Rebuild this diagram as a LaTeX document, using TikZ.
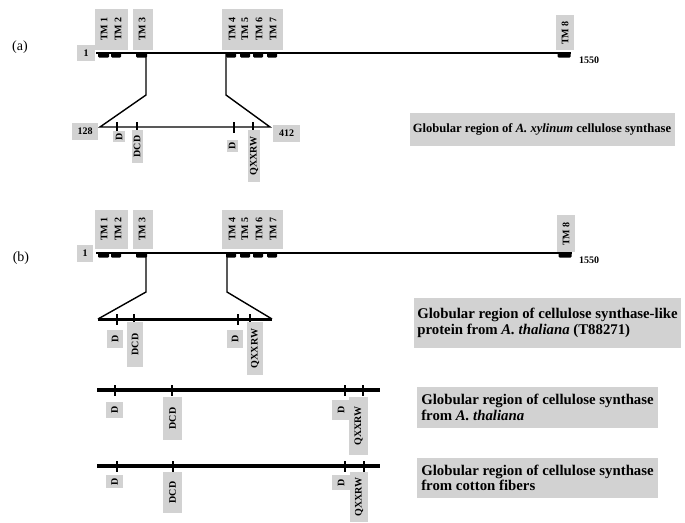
\documentclass[tikz,border=0pt]{standalone}
\usepackage{fontspec}
\setmainfont{Liberation Serif}
\definecolor{boxgray}{RGB}{210,210,210}
\begin{document}
\begin{tikzpicture}[x=1pt,y=-1pt,
  gbox/.style={fill=boxgray, inner sep=0pt},
  tmtxt/.style={font=\bfseries\fontsize{10}{10}\selectfont, rotate=90, inner sep=0pt},
  numtxt/.style={font=\bfseries\fontsize{10}{10}\selectfont, inner sep=0pt},
  seqline/.style={line width=1.4pt},
  thickseq/.style={line width=3pt},
  conn/.style={line width=1.4pt},
  tickln/.style={line width=1.3pt},
  tmbar/.style={fill=black, inner sep=0pt, minimum height=5pt, rounded corners=1pt},
  lab/.style={fill=boxgray, rotate=90, font=\bfseries\fontsize{10}{10}\selectfont, inner sep=0pt},
  capbox/.style={fill=boxgray, inner xsep=3pt, align=left, font=\bfseries\fontsize{14.8}{15.5}\selectfont},
  panel/.style={font=\fontsize{14}{14}\selectfont, inner sep=0pt}
]
\useasboundingbox (0,0) rectangle (685,522);

% ================= panel (a) =================
\node[panel] (a-lbl) at (20,47) {(a)};
\node[gbox, numtxt, minimum width=18pt, minimum height=16pt] (a-one) at (86,53) {1};
\node[gbox, minimum width=33pt, minimum height=41pt] (a-tm12) at (111.5,29.5) {};
\node[gbox, minimum width=20pt, minimum height=41pt] (a-tm3) at (143,29.5) {};
\node[gbox, minimum width=61pt, minimum height=41pt] (a-tm47) at (252.5,29.5) {};
\node[gbox, minimum width=18pt, minimum height=35pt] (a-tm8) at (565,32.5) {};
\node[tmtxt] (a-t1) at (104,29) {TM 1};
\node[tmtxt] (a-t2) at (118,29) {TM 2};
\node[tmtxt] (a-t3) at (142,29) {TM 3};
\node[tmtxt] (a-t4) at (232,29) {TM 4};
\node[tmtxt] (a-t5) at (245,29) {TM 5};
\node[tmtxt] (a-t6) at (259,29) {TM 6};
\node[tmtxt] (a-t7) at (273,29) {TM 7};
\node[tmtxt] (a-t8) at (565,33) {TM 8};
\coordinate (a-s) at (96,53);
\coordinate (a-e) at (571,53);
\draw[seqline] (a-s) -- (a-e);
\node[tmbar, minimum width=11pt] (a-b1) at (103.5,55) {};
\node[tmbar, minimum width=10pt] (a-b2) at (116,55) {};
\node[tmbar, minimum width=11pt] (a-b3) at (141.5,55) {};
\node[tmbar, minimum width=10pt] (a-b4) at (231,55) {};
\node[tmbar, minimum width=10pt] (a-b5) at (245,55) {};
\node[tmbar, minimum width=10pt] (a-b6) at (258,55) {};
\node[tmbar, minimum width=10pt] (a-b7) at (272,55) {};
\node[tmbar, minimum width=13pt] (a-b8) at (564,55) {};
\node[numtxt] (a-1550) at (589,60) {1550};
% connectors
\coordinate (a-lt) at (146,53);
\coordinate (a-lk) at (146,95);
\coordinate (a-rt) at (226,53);
\coordinate (a-rk) at (226,95);
\coordinate (a-gs) at (100,127);
\coordinate (a-ge) at (270,127);
\draw[conn, line join=miter] (a-lt) -- (a-lk) -- (a-gs) -- (a-ge) -- (a-rk) -- (a-rt);
\node[gbox, numtxt, minimum width=26pt, minimum height=17pt] (a-128) at (85,131.5) {128};
\node[gbox, numtxt, minimum width=27pt, minimum height=17pt] (a-412) at (286.5,133.5) {412};
\foreach \n/\x in {k1/117, k2/137, k3/234, k4/253}{
  \coordinate (a-\n) at (\x,127);
  \draw[tickln] ([yshift=5pt]a-\n) -- ([yshift=-6pt]a-\n);
}
\node[lab, minimum width=11pt, minimum height=12pt] (a-d1) at (119,136.5) {D};
\node[lab, minimum width=33pt, minimum height=11pt] (a-dcd) at (137,146.5) {DCD};
\node[lab, minimum width=12pt, minimum height=11pt] (a-d2) at (232,146) {D};
\node[lab, minimum width=52pt, minimum height=12pt] (a-q) at (254,156) {QXXRW};
\node[capbox, minimum width=265pt, minimum height=33pt, font=\bfseries\fontsize{12.6}{14}\selectfont] (a-cap) at (542,129.5)
  {Globular region of \textit{A. xylinum} cellulose synthase};

% ================= panel (b) =================
\node[panel] (b-lbl) at (21,258) {(b)};
\node[gbox, numtxt, minimum width=16pt, minimum height=17pt] (b-one) at (85,253.5) {1};
\node[gbox, minimum width=33pt, minimum height=39pt] (b-tm12) at (111.5,229.5) {};
\node[gbox, minimum width=20pt, minimum height=39pt] (b-tm3) at (143,229.5) {};
\node[gbox, minimum width=61pt, minimum height=39pt] (b-tm47) at (252.5,229.5) {};
\node[gbox, minimum width=18pt, minimum height=37pt] (b-tm8) at (566,233.5) {};
\node[tmtxt] (b-t1) at (104,229) {TM 1};
\node[tmtxt] (b-t2) at (118,229) {TM 2};
\node[tmtxt] (b-t3) at (142,229) {TM 3};
\node[tmtxt] (b-t4) at (232,229) {TM 4};
\node[tmtxt] (b-t5) at (245,229) {TM 5};
\node[tmtxt] (b-t6) at (259,229) {TM 6};
\node[tmtxt] (b-t7) at (273,229) {TM 7};
\node[tmtxt] (b-t8) at (566,234) {TM 8};
\coordinate (b-s) at (96,253);
\coordinate (b-e) at (572,253);
\draw[seqline] (b-s) -- (b-e);
\node[tmbar, minimum width=11pt] (b-b1) at (103.5,255) {};
\node[tmbar, minimum width=10pt] (b-b2) at (116,255) {};
\node[tmbar, minimum width=11pt] (b-b3) at (141.5,255) {};
\node[tmbar, minimum width=10pt] (b-b4) at (231,255) {};
\node[tmbar, minimum width=10pt] (b-b5) at (245,255) {};
\node[tmbar, minimum width=10pt] (b-b6) at (258,255) {};
\node[tmbar, minimum width=10pt] (b-b7) at (272,255) {};
\node[tmbar, minimum width=13pt] (b-b8) at (565,255) {};
\node[numtxt] (b-1550) at (589,260) {1550};
\coordinate (b-lt) at (146,253);
\coordinate (b-lk) at (146,292);
\coordinate (b-rt) at (227,253);
\coordinate (b-rk) at (227,292);
\coordinate (b-gs) at (98,319);
\coordinate (b-ge) at (272,319);
\draw[conn, line join=miter] (b-lt) -- (b-lk) -- (b-gs);
\draw[conn, line join=miter] (b-rt) -- (b-rk) -- (b-ge);
\draw[thickseq] (b-gs) -- (b-ge);
\foreach \n/\x in {k1/117, k2/134, k3/238, k4/250}{
  \coordinate (b-\n) at (\x,319);
  \draw[tickln] ([yshift=5pt]b-\n) -- ([yshift=-6pt]b-\n);
}
\node[lab, minimum width=18pt, minimum height=16pt] (b-d1) at (115,339) {D};
\node[lab, minimum width=45pt, minimum height=16pt] (b-dcd) at (135,344.5) {DCD};
\node[lab, minimum width=18pt, minimum height=16pt] (b-d2) at (235,339) {D};
\node[lab, minimum width=53pt, minimum height=16pt] (b-q) at (255,348.5) {QXXRW};
\node[capbox, minimum width=265pt, minimum height=50pt] (b-cap1) at (547.5,323)
  {Globular region of cellulose synthase-like\\protein from \textit{A. thaliana} (T88271)};

% second sequence (A. thaliana)
\coordinate (c-s) at (97,390);
\coordinate (c-e) at (380,390);
\draw[line width=3.5pt] (c-s) -- (c-e);
\foreach \n/\x in {k1/115, k2/172, k3/345, k4/363}{
  \coordinate (c-\n) at (\x,390);
  \draw[tickln] ([yshift=5pt]c-\n) -- ([yshift=-6pt]c-\n);
}
\node[lab, minimum width=16pt, minimum height=17pt] (c-d1) at (114.5,410) {D};
\node[lab, minimum width=43pt, minimum height=19pt] (c-dcd) at (172.5,418.5) {DCD};
\node[lab, minimum width=20pt, minimum height=18pt] (c-d2) at (341,410) {D};
\node[lab, minimum width=58pt, minimum height=19pt] (c-q) at (358.5,426) {QXXRW};
\node[capbox, minimum width=241pt, minimum height=41pt] (c-cap) at (537.5,407.5)
  {Globular region of cellulose synthase\\from \textit{A. thaliana}};

% third sequence (cotton)
\coordinate (d-s) at (97,466);
\coordinate (d-e) at (380,466);
\draw[line width=3.5pt] (d-s) -- (d-e);
\foreach \n/\x in {k1/117, k2/173, k3/345, k4/364}{
  \coordinate (d-\n) at (\x,466);
  \draw[tickln] ([yshift=5pt]d-\n) -- ([yshift=-6pt]d-\n);
}
\node[lab, minimum width=13pt, minimum height=17pt] (d-d1) at (114.5,481.5) {D};
\node[lab, minimum width=41pt, minimum height=19pt] (d-dcd) at (172.5,492.5) {DCD};
\node[lab, minimum width=15pt, minimum height=18pt] (d-d2) at (341,482.5) {D};
\node[lab, minimum width=50pt, minimum height=18pt] (d-q) at (359,497) {QXXRW};
\node[capbox, minimum width=241pt, minimum height=40pt] (d-cap) at (537.5,478)
  {Globular region of cellulose synthase\\from cotton fibers};
\end{tikzpicture}
\end{document}
